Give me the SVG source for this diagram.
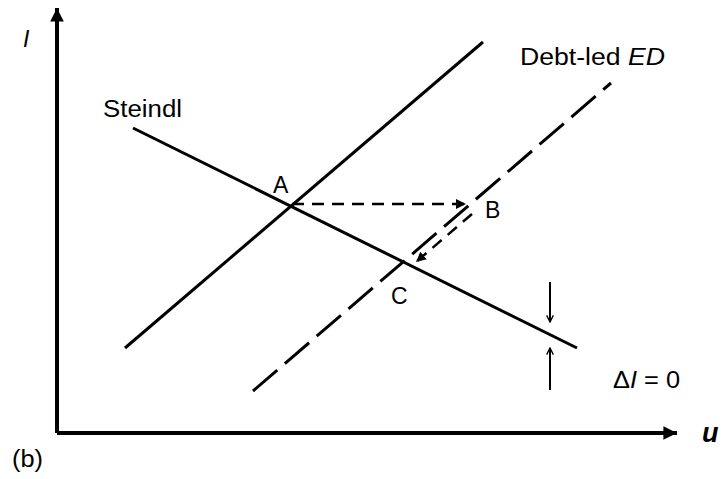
<svg xmlns="http://www.w3.org/2000/svg" width="724" height="479" viewBox="0 0 724 479">
<defs>
<marker id="ah" viewBox="0 0 10 10" refX="10" refY="5" markerWidth="3.4" markerHeight="3.4" orient="auto" markerUnits="strokeWidth"><path d="M0,0 L10,5 L0,10 z" fill="#000"/></marker>
<marker id="ahs" viewBox="0 0 10 10" refX="10" refY="5" markerWidth="4" markerHeight="4" orient="auto" markerUnits="strokeWidth"><path d="M0,0 L10,5 L0,10 z" fill="#000"/></marker>
<marker id="open" viewBox="0 0 12 12" refX="11" refY="6" markerWidth="8" markerHeight="8" orient="auto" markerUnits="userSpaceOnUse"><path d="M1,1 L11,6 L1,11" fill="none" stroke="#000" stroke-width="2"/></marker>
</defs>
<style>
text{font-family:"Liberation Sans",Arial,sans-serif;font-size:23px;fill:#000}
.it{font-style:italic}
.ax{stroke:#000;stroke-width:4;fill:none}
.ln{stroke:#000;stroke-width:3;fill:none}
.ld{stroke:#000;stroke-width:3;fill:none;stroke-dasharray:32 10}
.sd{stroke:#000;stroke-width:2.5;fill:none;stroke-dasharray:12 8}
.th{stroke:#000;stroke-width:2;fill:none}
</style>
<g id="axes">
<path class="ax" d="M57,433 L57,8" marker-end="url(#ah)"/>
<path class="ax" d="M57,433 L677,433" marker-end="url(#ah)"/>
</g>
<g id="lines">
<path id="ed" class="ln" d="M125,348 L483,42"/>
<path id="steindl" class="ln" d="M133,128 L577,348"/>
<path id="debtled" class="ld" d="M253,391 L611,83"/>
</g>
<g id="connectors">
<path class="sd" d="M292,204 L466,204" marker-end="url(#ahs)"/>
<path class="sd" d="M472,214 L416,262" marker-end="url(#ahs)"/>
<path class="th" d="M550,282 L550,322" marker-end="url(#open)"/>
<path class="th" d="M550,390 L550,348" marker-end="url(#open)"/>
</g>
<g id="labels">
<text class="it" x="23" y="47">I</text>
<text x="103" y="117" textLength="79" lengthAdjust="spacingAndGlyphs">Steindl</text>
<text x="520" y="65" textLength="145" lengthAdjust="spacingAndGlyphs">Debt-led <tspan class="it">ED</tspan></text>
<text x="273" y="193">A</text>
<text x="485" y="218">B</text>
<text x="391" y="304">C</text>
<text x="613" y="388" textLength="67" lengthAdjust="spacingAndGlyphs">Δ<tspan class="it">I</tspan> = 0</text>
<text class="it" x="702" y="442" style="font-size:27px;font-weight:bold">u</text>
<text x="12" y="467" textLength="31" lengthAdjust="spacingAndGlyphs">(b)</text>
</g>
</svg>
